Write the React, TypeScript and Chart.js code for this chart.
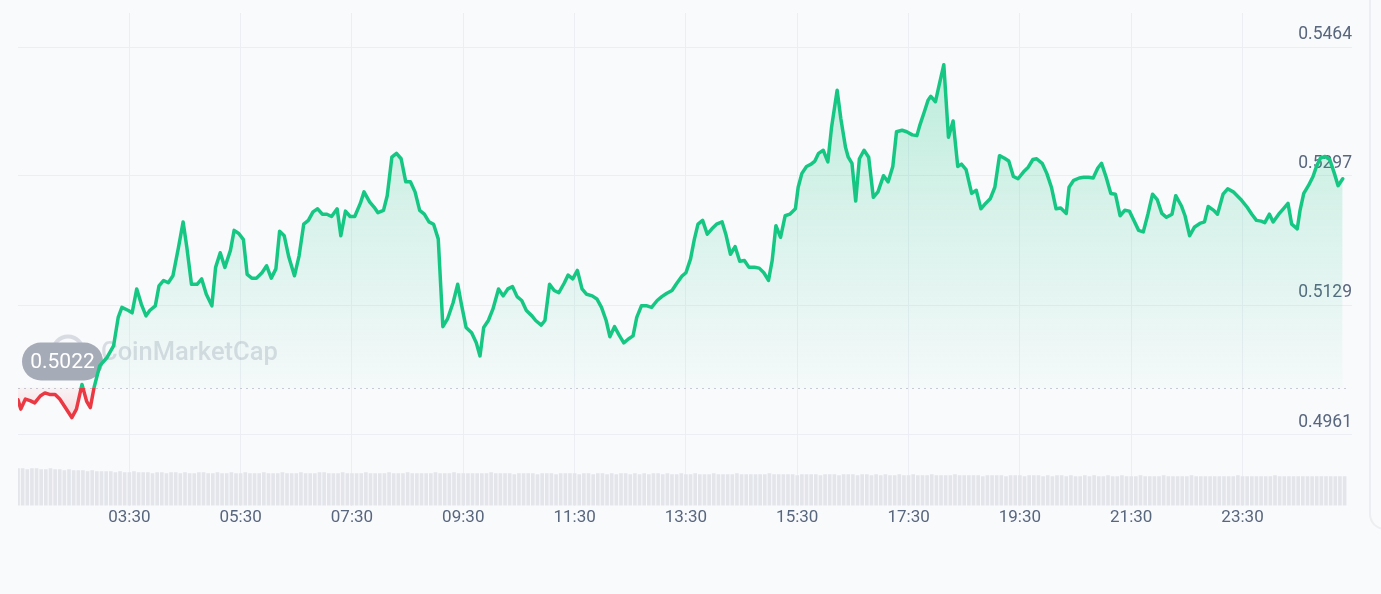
import React, { useEffect, useRef } from 'react';
import { Chart, registerables } from 'chart.js';

Chart.register(...registerables);

// ---- data ----
const baselinePrice = 0.5022;
const baselineLabel = '0.5022';
const watermarkText = 'CoinMarketCap';

// minutes since 00:00 of the first day (values > 1440 are the next day)
const priceTimes = [
  90, 93, 98, 103, 108, 114, 119, 124, 130, 135, 141, 148, 153, 159, 164, 168, 172, 178, 186, 193,
  198, 202, 209, 213, 218, 223, 228, 232, 238, 242, 247, 252, 257, 263, 268, 272, 277, 283, 288, 293,
  299, 303, 308, 313, 319, 323, 328, 333, 337, 342, 347, 353, 358, 363, 368, 372, 377, 382, 388, 393,
  398, 403, 408, 413, 418, 423, 428, 434, 438, 443, 448, 453, 459, 463, 469, 474, 478, 484, 488, 493,
  498, 503, 508, 513, 518, 523, 528, 533, 538, 543, 548, 553, 559, 564, 568, 573, 579, 584, 588, 592,
  597, 602, 608, 613, 618, 623, 628, 633, 638, 644, 648, 654, 658, 663, 668, 673, 679, 683, 688, 693,
  698, 703, 709, 714, 719, 724, 728, 733, 738, 743, 748, 753, 757, 762, 768, 773, 779, 784, 789, 795,
  800, 806, 810, 815, 819, 823, 828, 833, 838, 843, 849, 853, 858, 863, 868, 873, 878, 884, 889, 894,
  899, 903, 907, 912, 917, 922, 928, 931, 935, 940, 945, 949, 953, 958, 963, 967, 973, 977, 982, 985,
  989, 993, 997, 1002, 1007, 1012, 1017, 1023, 1028, 1033, 1037, 1043, 1048, 1054, 1059, 1062, 1067, 1071, 1074, 1079,
  1083, 1088, 1093, 1098, 1103, 1107, 1112, 1118, 1123, 1128, 1133, 1138, 1143, 1148, 1153, 1158, 1163, 1168, 1174, 1179,
  1184, 1188, 1194, 1199, 1204, 1209, 1214, 1220, 1223, 1228, 1234, 1239, 1244, 1249, 1254, 1258, 1263, 1268, 1273, 1278,
  1283, 1288, 1292, 1298, 1303, 1308, 1313, 1318, 1323, 1328, 1334, 1338, 1344, 1348, 1353, 1358, 1364, 1369, 1373, 1379,
  1383, 1389, 1394, 1400, 1405, 1409, 1415, 1420, 1425, 1430, 1434, 1439, 1443, 1449, 1454, 1459, 1463, 1469, 1472, 1476,
  1481, 1486, 1490, 1494, 1499, 1504, 1509, 1513, 1518,
];

const prices = [
  0.5006, 0.4994, 0.5007, 0.5005, 0.5002, 0.5011, 0.5015, 0.5013, 0.5013, 0.5007, 0.4996, 0.4983, 0.4994, 0.5026, 0.5004, 0.4996, 0.5022, 0.5050, 0.5061, 0.5076,
  0.5113, 0.5126, 0.5122, 0.5119, 0.5150, 0.5130, 0.5115, 0.5122, 0.5128, 0.5154, 0.5161, 0.5158, 0.5167, 0.5204, 0.5237, 0.5204, 0.5156, 0.5156, 0.5163, 0.5143,
  0.5128, 0.5178, 0.5197, 0.5178, 0.5200, 0.5226, 0.5222, 0.5214, 0.5169, 0.5164, 0.5164, 0.5171, 0.5180, 0.5164, 0.5176, 0.5225, 0.5219, 0.5191, 0.5167, 0.5193,
  0.5234, 0.5239, 0.5250, 0.5254, 0.5247, 0.5247, 0.5244, 0.5254, 0.5219, 0.5251, 0.5244, 0.5244, 0.5261, 0.5276, 0.5263, 0.5256, 0.5249, 0.5252, 0.5271, 0.5321,
  0.5326, 0.5319, 0.5289, 0.5289, 0.5276, 0.5252, 0.5247, 0.5237, 0.5234, 0.5215, 0.5101, 0.5111, 0.5132, 0.5156, 0.5130, 0.5100, 0.5093, 0.5080, 0.5063, 0.5100,
  0.5109, 0.5124, 0.5150, 0.5141, 0.5150, 0.5153, 0.5140, 0.5135, 0.5122, 0.5115, 0.5109, 0.5103, 0.5109, 0.5156, 0.5148, 0.5145, 0.5158, 0.5168, 0.5163, 0.5174,
  0.5150, 0.5143, 0.5141, 0.5137, 0.5126, 0.5109, 0.5088, 0.5101, 0.5090, 0.5080, 0.5085, 0.5089, 0.5113, 0.5128, 0.5128, 0.5126, 0.5135, 0.5140, 0.5144, 0.5148,
  0.5157, 0.5167, 0.5171, 0.5189, 0.5214, 0.5234, 0.5239, 0.5221, 0.5228, 0.5234, 0.5237, 0.5221, 0.5195, 0.5205, 0.5186, 0.5187, 0.5178, 0.5178, 0.5177, 0.5171,
  0.5161, 0.5187, 0.5232, 0.5217, 0.5245, 0.5247, 0.5254, 0.5282, 0.5300, 0.5309, 0.5312, 0.5316, 0.5326, 0.5330, 0.5315, 0.5360, 0.5408, 0.5371, 0.5334, 0.5321,
  0.5313, 0.5264, 0.5319, 0.5330, 0.5321, 0.5269, 0.5276, 0.5297, 0.5289, 0.5309, 0.5354, 0.5356, 0.5354, 0.5350, 0.5349, 0.5362, 0.5380, 0.5395, 0.5400, 0.5393,
  0.5415, 0.5441, 0.5347, 0.5368, 0.5309, 0.5312, 0.5305, 0.5274, 0.5278, 0.5254, 0.5261, 0.5267, 0.5282, 0.5323, 0.5320, 0.5316, 0.5296, 0.5293, 0.5302, 0.5308,
  0.5318, 0.5319, 0.5313, 0.5300, 0.5282, 0.5254, 0.5255, 0.5248, 0.5282, 0.5291, 0.5294, 0.5295, 0.5295, 0.5294, 0.5307, 0.5313, 0.5295, 0.5274, 0.5273, 0.5245,
  0.5252, 0.5251, 0.5241, 0.5226, 0.5224, 0.5247, 0.5273, 0.5266, 0.5248, 0.5243, 0.5247, 0.5271, 0.5258, 0.5245, 0.5219, 0.5230, 0.5235, 0.5237, 0.5257, 0.5252,
  0.5247, 0.5273, 0.5280, 0.5276, 0.5270, 0.5265, 0.5256, 0.5247, 0.5239, 0.5238, 0.5236, 0.5247, 0.5237, 0.5247, 0.5254, 0.5261, 0.5234, 0.5228, 0.5252, 0.5274,
  0.5284, 0.5296, 0.5310, 0.5320, 0.5322, 0.5318, 0.5300, 0.5284, 0.5293,
];

// volume bars, one every 5 minutes starting at 01:30 (relative units)
const volumeStart = 90;
const volumeStep = 5;
const volumes = [
  37, 37, 36, 37, 37, 36, 36, 37, 36, 36, 35, 36, 35, 35, 35, 34, 35, 34, 34, 34,
  34, 33, 34, 33, 33, 34, 33, 33, 33, 32, 33, 33, 32, 33, 33, 32, 33, 32, 32, 33,
  33, 32, 32, 33, 32, 32, 33, 32, 32, 33, 32, 32, 32, 33, 32, 32, 32, 33, 32, 32,
  32, 33, 32, 32, 32, 33, 33, 32, 32, 32, 33, 32, 32, 32, 32, 33, 32, 32, 32, 32,
  33, 32, 32, 32, 33, 32, 32, 32, 32, 32, 33, 32, 32, 32, 33, 32, 32, 32, 32, 32,
  32, 32, 33, 32, 32, 32, 32, 31, 32, 32, 32, 32, 31, 32, 32, 32, 31, 32, 32, 32,
  32, 31, 32, 32, 31, 32, 32, 31, 32, 31, 32, 32, 31, 32, 31, 32, 31, 32, 32, 31,
  32, 31, 31, 32, 31, 31, 32, 31, 31, 31, 32, 31, 31, 31, 31, 32, 31, 31, 31, 31,
  31, 31, 32, 31, 31, 31, 31, 31, 30, 31, 31, 31, 31, 30, 31, 31, 31, 30, 31, 31,
  31, 30, 31, 31, 30, 31, 30, 31, 30, 30, 31, 30, 30, 31, 30, 30, 30, 31, 30, 30,
  30, 30, 31, 30, 30, 30, 30, 30, 29, 30, 30, 30, 30, 29, 30, 30, 30, 29, 30, 30,
  30, 29, 30, 29, 30, 30, 29, 30, 29, 29, 30, 29, 30, 29, 29, 30, 29, 29, 30, 29,
  29, 29, 30, 29, 29, 29, 29, 30, 29, 29, 29, 29, 29, 30, 29, 29, 29, 29, 29, 29,
  29, 29, 29, 30, 29, 29, 29, 29, 29, 29, 29, 30, 29, 29, 29, 29, 29, 29, 29, 29,
  29, 29, 29, 29, 29, 29, 29,
];

const xTickValues = [210, 330, 450, 570, 690, 810, 930, 1050, 1170, 1290, 1410];
const yTickValues = [0.4961, 0.5129, 0.5297, 0.5464];
const yTickLabels = ['0.4961', '0.5129', '0.5297', '0.5464'];

// ---- style ----
const GREEN = '#16c784';
const RED = '#ea3943';
const TEXT = '#58667e';
const GRID = '#eceef3';
const BG = '#f9fafc';
const FONT = 'Roboto, "Noto Sans", "DejaVu Sans", sans-serif';

function pad2(n: number) {
  return (n < 10 ? '0' : '') + n;
}
function fmtTime(m: number) {
  const t = ((Math.round(m) % 1440) + 1440) % 1440;
  return pad2(Math.floor(t / 60)) + ':' + pad2(t % 60);
}

const overlayPlugin = {
  id: 'cmcOverlay',
  beforeDatasetsDraw(chart: any) {
    const { ctx, chartArea, scales } = chart;
    const yb = Math.round(scales.y.getPixelForValue(baselinePrice)) + 0.5;
    ctx.save();
    // watermark
    const wm = 'rgba(150,156,175,0.32)';
    ctx.strokeStyle = wm;
    ctx.fillStyle = wm;
    ctx.lineWidth = 4;
    ctx.beginPath();
    ctx.arc(chartArea.left + 50, yb - 37, 15, 0, Math.PI * 2);
    ctx.stroke();
    ctx.font = '500 25.5px ' + FONT;
    ctx.textAlign = 'left';
    ctx.textBaseline = 'alphabetic';
    ctx.fillText(watermarkText, chartArea.left + 83, yb - 29);
    // dashed baseline
    ctx.setLineDash([2, 4]);
    ctx.strokeStyle = '#c6cad3';
    ctx.lineWidth = 1;
    ctx.beginPath();
    ctx.moveTo(chartArea.left, yb);
    ctx.lineTo(chartArea.right - 4, yb);
    ctx.stroke();
    ctx.setLineDash([]);
    // baseline pill
    const w = 81;
    const h = 38;
    const px = chartArea.left + 4;
    const py = yb - 8 - h;
    ctx.fillStyle = '#a6abb8';
    ctx.beginPath();
    ctx.roundRect(px, py, w, h, h / 2);
    ctx.fill();
    ctx.fillStyle = '#ffffff';
    ctx.font = '21px ' + FONT;
    ctx.textAlign = 'center';
    ctx.textBaseline = 'middle';
    ctx.fillText(baselineLabel, px + w / 2, py + h / 2 + 1);
    ctx.restore();
  },
};

export default function App() {
  const ref = useRef<HTMLCanvasElement>(null);

  useEffect(() => {
    const canvas = ref.current;
    if (!canvas) return;
    Chart.defaults.font.family = FONT;

    const n = Math.min(priceTimes.length, prices.length);
    const lineData = [];
    for (let i = 0; i < n; i++) lineData.push({ x: priceTimes[i], y: prices[i] });
    const barData = volumes.map((v, i) => ({ x: volumeStart + i * volumeStep, y: v }));

    const chart = new Chart(canvas, {
      type: 'line',
      data: {
        datasets: [
          {
            type: 'line',
            data: lineData,
            yAxisID: 'y',
            borderColor: GREEN,
            borderWidth: 3.5,
            borderJoinStyle: 'round',
            borderCapStyle: 'round',
            pointRadius: 0,
            tension: 0,
            fill: { target: { value: baselinePrice }, above: 'rgba(22,199,132,0.12)', below: 'rgba(234,57,67,0.12)' },
            order: 1,
          } as any,
          {
            type: 'bar',
            data: barData,
            yAxisID: 'yv',
            backgroundColor: '#e3e5eb',
            barThickness: 3,
            order: 2,
          } as any,
        ],
      },
      options: {
        animation: false,
        responsive: false,
        maintainAspectRatio: false,
        events: [],
        layout: { padding: { left: 18, right: 29, top: 13, bottom: 64 } },
        plugins: { legend: { display: false }, tooltip: { enabled: false } },
        scales: {
          x: {
            type: 'linear',
            min: 90,
            max: 1528,
            offset: false,
            grid: { color: GRID, drawTicks: false, lineWidth: 1, offset: false },
            border: { display: false },
            afterBuildTicks: (scale: any) => {
              scale.ticks = xTickValues.map((v) => ({ value: v }));
            },
            ticks: {
              autoSkip: false,
              maxRotation: 0,
              padding: 2,
              color: TEXT,
              font: { size: 17, family: FONT },
              callback: (v: any) => fmtTime(Number(v)),
            },
          },
          y: {
            type: 'linear',
            position: 'right',
            min: 0.48687,
            max: 0.55082,
            grid: { color: GRID, drawTicks: false, lineWidth: 1 },
            border: { display: false },
            afterBuildTicks: (scale: any) => {
              scale.ticks = yTickValues.map((v) => ({ value: v }));
            },
            ticks: {
              autoSkip: false,
              mirror: true,
              padding: 0,
              labelOffset: -12,
              color: TEXT,
              font: { size: 17.5, family: FONT },
              callback: (_v: any, i: number) => yTickLabels[i],
            },
          },
          yv: {
            type: 'linear',
            display: false,
            min: 0,
            max: 492,
          },
        },
      } as any,
      plugins: [overlayPlugin],
    });

    // gradients depending on the baseline pixel
    const { ctx, chartArea, scales } = chart as any;
    const yb = scales.y.getPixelForValue(baselinePrice);
    const top = chartArea.top;
    const bottom = chartArea.bottom;
    const f = Math.min(Math.max((yb - top) / (bottom - top), 0), 1);

    const stroke = ctx.createLinearGradient(0, top, 0, bottom);
    stroke.addColorStop(0, GREEN);
    stroke.addColorStop(f, GREEN);
    stroke.addColorStop(f, RED);
    stroke.addColorStop(1, RED);

    const yHigh = scales.y.getPixelForValue(yTickValues[3]);
    const gFill = ctx.createLinearGradient(0, yHigh, 0, yb);
    gFill.addColorStop(0, 'rgba(22,199,132,0.28)');
    gFill.addColorStop(0.5, 'rgba(22,199,132,0.14)');
    gFill.addColorStop(1, 'rgba(22,199,132,0.02)');

    const rFill = ctx.createLinearGradient(0, yb, 0, yb + 35);
    rFill.addColorStop(0, 'rgba(234,57,67,0.03)');
    rFill.addColorStop(1, 'rgba(234,57,67,0.2)');

    const ds: any = chart.data.datasets[0];
    ds.borderColor = stroke;
    ds.fill = { target: { value: baselinePrice }, above: gFill, below: rFill };
    chart.update('none');

    return () => {
      chart.destroy();
    };
  }, []);

  return (
    <div
      style={{
        position: 'fixed',
        left: 0,
        top: 0,
        width: 1381,
        height: 594,
        background: BG,
        overflow: 'hidden',
      }}
    >
      <canvas ref={ref} width={1381} height={594} style={{ display: 'block', width: 1381, height: 594 }} />
      <div
        style={{
          position: 'absolute',
          left: 1369,
          top: -40,
          width: 100,
          height: 570,
          border: '2px solid #eceef2',
          borderRadius: 16,
          boxSizing: 'border-box',
        }}
      />
    </div>
  );
}
